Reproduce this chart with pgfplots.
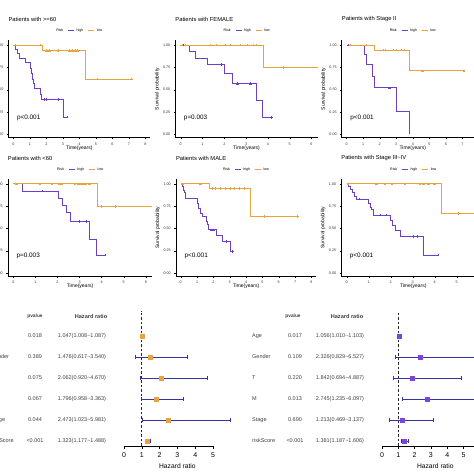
\documentclass[border=0pt]{standalone}
\usepackage{fontspec}
\setmainfont{Liberation Sans}
\usepackage{pgfplots}
\pgfplotsset{compat=1.18}
\definecolor{hi}{HTML}{6A3FCF}
\definecolor{lo}{HTML}{E8A33C}
\definecolor{ebar}{HTML}{3434A6}
\definecolor{rbox}{HTML}{7A44DE}
\newcommand{\fs}[1]{\fontsize{#1}{#1}\selectfont}
\tikzset{ftxt/.style={font=\fs{5.5}, text=black!75}}
\pgfplotsset{
 km/.style={
  scale only axis, anchor=south west, clip=false,
  axis x line*=bottom, axis y line*=left,
  ymin=-0.035, ymax=1.05,
  ytick={0,0.25,0.5,0.75,1}, yticklabels={0.00,0.25,0.50,0.75,1.00},
  tick align=outside, major tick length=1.5pt,
  every tick/.style={black, line width=0.35pt},
  axis line style={black, line width=0.45pt},
  /pgf/number format/assume math mode=true,
  ticklabel style={font=\fs{3.7}, text=black!80},
  legend style={at={(0.5,1)}, anchor=center, yshift=10pt, draw=none, fill=none, font=\fs{3.6}, legend columns=-1, inner sep=0pt, /tikz/every even column/.append style={column sep=2.5pt}},
  legend image code/.code={\draw[#1] (0pt,0pt) -- (6pt,0pt);},
 },
 kmh/.style={hi, line width=0.9pt, mark=none},
 kml/.style={lo, line width=0.9pt, mark=none},
 cenh/.style={hi, only marks, mark=+, mark size=1.3pt, line width=0.4pt, forget plot},
 cenl/.style={lo, only marks, mark=+, mark size=1.3pt, line width=0.4pt, forget plot},
 forest/.style={
  scale only axis, anchor=south west, clip=false,
  axis x line*=bottom, axis y line=none, ytick=\empty,
  ymin=0.76, ymax=7.2, height=135.2pt, xmin=0,
  tick align=outside, major tick length=3pt,
  every tick/.style={black, line width=0.5pt},
  axis line style={black, line width=0.6pt},
  /pgf/number format/assume math mode=true,
  ticklabel style={font=\fs{7}},
 },
 fbar/.style={ebar, line width=0.8pt, mark=|, mark size=2.3pt, mark options={line width=0.8pt}},
}
\newcommand{\kmlabels}[3]{%
  \node[font=\fs{5}] at ([yshift=-10.5pt]rel axis cs:0.5,0) {Time(years)};
  \node[font=\fs{5}, rotate=90] at ([xshift=-18pt]rel axis cs:0,0.5) {Survival probability};
  \node[anchor=west, font=\fs{5.8}, inner xsep=0pt] at ([yshift=21.5pt]rel axis cs:0,1) {#1};
  \node[anchor=west, font=\fs{6.4}, inner xsep=0pt] at ([xshift=8.5pt]axis cs:#3,0.19) {#2};
}
% row of forest table: y, label, pvalue, HR text, label shift, pvalue shift
\newcommand{\frow}[6]{%
  \node[ftxt, anchor=west, inner xsep=0pt] at ([xshift=#5]axis cs:0,#1) {#2};
  \node[ftxt] at ([xshift=#6]axis cs:0,#1) {#3};
  \node[ftxt] at ([xshift=-42pt]axis cs:0,#1) {#4};
}
\newcommand{\tl}{\textasciitilde}
\begin{document}
\begin{tikzpicture}
% ---------- Row 1 ----------
\begin{axis}[km, at={(8.35pt,336.4pt)}, width=141.9pt, height=97.1pt, xmin=-0.3, xmax=8.3, xtick={0,...,8}]
\addlegendimage{empty legend}\addlegendentry{Risk}
\addplot[kmh, const plot] coordinates {(0,1) (0.16,0.95) (0.24,0.90) (0.36,0.85) (0.71,0.80) (1.05,0.74) (1.12,0.68) (1.18,0.62) (1.22,0.57) (1.27,0.51) (1.62,0.45) (1.72,0.39) (3.04,0.195) (3.25,0.195)};
\addlegendentry{high}
\addplot[kml, const plot] coordinates {(0,1) (1.78,0.935) (4.4,0.62) (7.17,0.62)};
\addlegendentry{low}
\addplot[cenh] coordinates {(1.9,0.39) (2.0,0.39) (2.7,0.39) (3.25,0.195)};
\addplot[cenl] coordinates {(0.1,1) (1.65,1) (2.0,0.935) (2.2,0.935) (2.7,0.935) (3.4,0.935) (3.6,0.935) (3.75,0.935) (3.9,0.935) (5.1,0.62) (7.17,0.62)};
\kmlabels{Patients with >=60}{p<0.001}{-0.3}
\end{axis}

\begin{axis}[km, at={(175.25pt,336.4pt)}, width=142.8pt, height=97.1pt, xmin=-0.25, xmax=6.3, xtick={0,...,6}]
\addlegendimage{empty legend}\addlegendentry{Risk}
\addplot[kmh, const plot] coordinates {(0,1) (0.40,0.925) (0.66,0.85) (1.22,0.78) (1.99,0.68) (2.39,0.567) (3.49,0.38) (3.76,0.19) (4.17,0.19)};
\addlegendentry{high}
\addplot[kml, const plot] coordinates {(0,1) (3.79,0.75) (6.3,0.75)};
\addlegendentry{low}
\addplot[cenh] coordinates {(0.1,1) (1.85,0.78) (2.6,0.567) (3.2,0.567) (4.17,0.19)};
\addplot[cenl] coordinates {(0.05,1) (0.2,1) (1.35,1) (1.65,1) (2.03,1) (2.26,1) (2.72,1) (3.03,1) (3.33,1) (3.45,1) (4.68,0.75)};
\kmlabels{Patients with FEMALE}{p=0.003}{-0.25}
\end{axis}

\begin{axis}[km, at={(341.7pt,336.4pt)}, width=142.2pt, height=97.1pt, xmin=-0.3, xmax=8.3, xtick={0,...,8}]
\addlegendimage{empty legend}\addlegendentry{Risk}
\addplot[kmh, const plot] coordinates {(0,1) (1.07,0.89) (1.21,0.78) (1.55,0.65) (1.67,0.52) (3.02,0.26) (3.77,0.0)};
\addlegendentry{high}
\addplot[kml, const plot] coordinates {(0,1) (1.71,0.944) (3.79,0.71) (7.1,0.71)};
\addlegendentry{low}
\addplot[cenh] coordinates {(0.1,1) (0.2,1) (2.6,0.52)};
\addplot[cenl] coordinates {(0.2,1) (1.2,1) (2.2,0.944) (2.35,0.944) (2.8,0.944) (3.0,0.944) (3.3,0.944) (3.5,0.944) (4.6,0.71) (7.1,0.71)};
\kmlabels{Patients with Stage II}{p<0.001}{-0.3}
\end{axis}

% ---------- Row 2 ----------
\begin{axis}[km, at={(7.8pt,197.9pt)}, width=144.6pt, height=96.6pt, xmin=-0.25, xmax=6.3, xtick={0,...,6}]
\addlegendimage{empty legend}\addlegendentry{Risk}
\addplot[kmh, const plot] coordinates {(0,1) (0.41,0.92) (2.04,0.84) (2.22,0.76) (2.42,0.68) (2.6,0.58) (3.47,0.38) (3.78,0.2) (4.15,0.2)};
\addlegendentry{high}
\addplot[kml, const plot] coordinates {(0,1) (3.82,0.75) (6.3,0.75)};
\addlegendentry{low}
\addplot[cenh] coordinates {(1.3,0.92) (3.0,0.58) (3.3,0.58) (4.15,0.2)};
\addplot[cenl] coordinates {(0.15,1) (1.2,1) (1.75,1) (2.1,1) (2.2,1) (2.8,1) (2.95,1) (3.1,1) (3.2,1) (3.3,1) (3.45,1) (4.0,0.75) (4.6,0.75)};
\kmlabels{Patients with <60}{p=0.003}{-0.25}
\end{axis}

\begin{axis}[km, at={(175.8pt,197.9pt)}, width=140.5pt, height=96.6pt, xmin=-0.3, xmax=8.3, xtick={0,...,8}]
\addlegendimage{empty legend}\addlegendentry{Risk}
\addplot[kmh, const plot] coordinates {(0,1) (0.08,0.97) (0.16,0.93) (0.24,0.9) (0.31,0.84) (1.04,0.78) (1.1,0.72) (1.18,0.67) (1.33,0.63) (1.55,0.58) (1.63,0.54) (1.69,0.485) (2.2,0.42) (2.57,0.355) (3.02,0.24) (3.18,0.24)};
\addlegendentry{high}
\addplot[kml, const plot] coordinates {(0,1) (1.76,0.95) (4.29,0.634) (7.14,0.634)};
\addlegendentry{low}
\addplot[cenh] coordinates {(1.9,0.485) (2.0,0.485) (2.8,0.355) (3.18,0.24)};
\addplot[cenl] coordinates {(0.1,1) (1.2,1) (1.9,0.95) (2.1,0.95) (2.4,0.95) (2.7,0.95) (3.0,0.95) (3.3,0.95) (3.6,0.95) (3.9,0.95) (5.1,0.634) (7.14,0.634)};
\kmlabels{Patients with MALE}{p<0.001}{-0.3}
\end{axis}

\begin{axis}[km, at={(341.2pt,197.9pt)}, width=144.1pt, height=96.6pt, xmin=-0.25, xmax=6.3, xtick={0,...,6}]
\addlegendimage{empty legend}\addlegendentry{Risk}
\addplot[kmh, const plot] coordinates {(0,1) (0.1,0.97) (0.18,0.94) (0.26,0.9) (0.35,0.86) (0.45,0.83) (0.98,0.78) (1.08,0.74) (1.14,0.71) (1.21,0.65) (1.97,0.59) (2.08,0.53) (2.2,0.48) (2.45,0.41) (3.48,0.2) (4.14,0.2)};
\addlegendentry{high}
\addplot[kml, const plot] coordinates {(0,1) (4.32,0.67) (6.3,0.67)};
\addlegendentry{low}
\addplot[cenh] coordinates {(0.55,0.83) (1.5,0.65) (1.8,0.65) (3.0,0.41) (3.2,0.41) (4.14,0.2)};
\addplot[cenl] coordinates {(0.05,1) (1.36,1) (1.74,1) (2.05,1) (2.65,1) (3.33,1) (3.48,1) (3.71,1) (4.0,1) (5.08,0.67)};
\kmlabels{Patients with Stage III\textasciitilde IV}{p<0.001}{-0.25}
\end{axis}

% ---------- Forest left ----------
\begin{axis}[forest, at={(124pt,28pt)}, width=89pt, xmax=5, xtick={0,...,5}]
\addplot[black!85, line width=0.9pt, dash pattern=on 2.5pt off 2pt] coordinates {(1,0.76) (1,7.2)};
\addplot[fbar] coordinates {(1.008,6) (1.087,6)};
\addplot[fbar] coordinates {(0.617,5) (3.540,5)};
\addplot[fbar] coordinates {(0.920,4) (4.670,4)};
\addplot[fbar] coordinates {(0.958,3) (3.363,3)};
\addplot[fbar] coordinates {(1.023,2) (5.981,2)};
\addplot[fbar] coordinates {(1.177,1) (1.488,1)};
\addplot[only marks, mark=square*, mark size=2pt, lo, mark options={fill=lo, draw=lo}] coordinates {(1.047,6) (1.476,5) (2.062,4) (1.796,3) (2.473,2) (1.323,1)};
\node[font=\fs{6.7}] at ([yshift=-20pt]axis cs:3,0.76) {Hazard ratio};
\node[ftxt, font=\bfseries\fs{4.8}] at ([xshift=-89pt]axis cs:0,6.95) {pvalue};
\node[ftxt, font=\bfseries\fs{5.6}] at ([xshift=-33pt]axis cs:0,6.95) {Hazard ratio};
\frow{6}{Age}{0.018}{1.047(1.008\tl1.087)}{-133.5pt}{-89pt}
\frow{5}{Gender}{0.389}{1.476(0.617\tl3.540)}{-133.5pt}{-89pt}
\frow{4}{T}{0.075}{2.062(0.920\tl4.670)}{-133.5pt}{-89pt}
\frow{3}{M}{0.067}{1.796(0.958\tl3.363)}{-133.5pt}{-89pt}
\frow{2}{Stage}{0.044}{2.473(1.023\tl5.981)}{-133.5pt}{-89pt}
\frow{1}{riskScore}{<0.001}{1.323(1.177\tl1.488)}{-133.5pt}{-89pt}
\end{axis}

% ---------- Forest right ----------
\begin{axis}[forest, at={(382pt,28pt)}, width=97.8pt, xmax=6, xtick={0,...,6}]
\addplot[black!85, line width=0.9pt, dash pattern=on 2.5pt off 2pt] coordinates {(1,0.76) (1,7.1)};
\addplot[fbar] coordinates {(1.010,6) (1.103,6)};
\addplot[fbar] coordinates {(0.829,5) (6.527,5)};
\addplot[fbar] coordinates {(0.694,4) (4.887,4)};
\addplot[fbar] coordinates {(1.235,3) (6.097,3)};
\addplot[fbar] coordinates {(0.469,2) (3.137,2)};
\addplot[fbar] coordinates {(1.187,1) (1.606,1)};
\addplot[only marks, mark=square*, mark size=2pt, rbox, mark options={fill=rbox, draw=rbox}] coordinates {(1.056,6) (2.326,5) (1.842,4) (2.745,3) (1.213,2) (1.381,1)};
\node[font=\fs{6.7}] at ([yshift=-20pt]axis cs:3.27,0.76) {Hazard ratio};
\node[ftxt, font=\bfseries\fs{4.8}] at ([xshift=-89pt]axis cs:0,6.95) {pvalue};
\node[ftxt, font=\bfseries\fs{5.6}] at ([xshift=-35pt]axis cs:0,6.95) {Hazard ratio};
\frow{6}{Age}{0.017}{1.056(1.010\tl1.103)}{-130pt}{-87pt}
\frow{5}{Gender}{0.109}{2.326(0.829\tl6.527)}{-130pt}{-87pt}
\frow{4}{T}{0.220}{1.842(0.694\tl4.887)}{-130pt}{-87pt}
\frow{3}{M}{0.013}{2.745(1.235\tl6.097)}{-130pt}{-87pt}
\frow{2}{Stage}{0.690}{1.213(0.469\tl3.137)}{-130pt}{-87pt}
\frow{1}{riskScore}{<0.001}{1.381(1.187\tl1.606)}{-130pt}{-87pt}
\end{axis}

\pgfresetboundingbox
\path[use as bounding box] (0,0) rectangle (474pt,474pt);
\end{tikzpicture}
\end{document}
